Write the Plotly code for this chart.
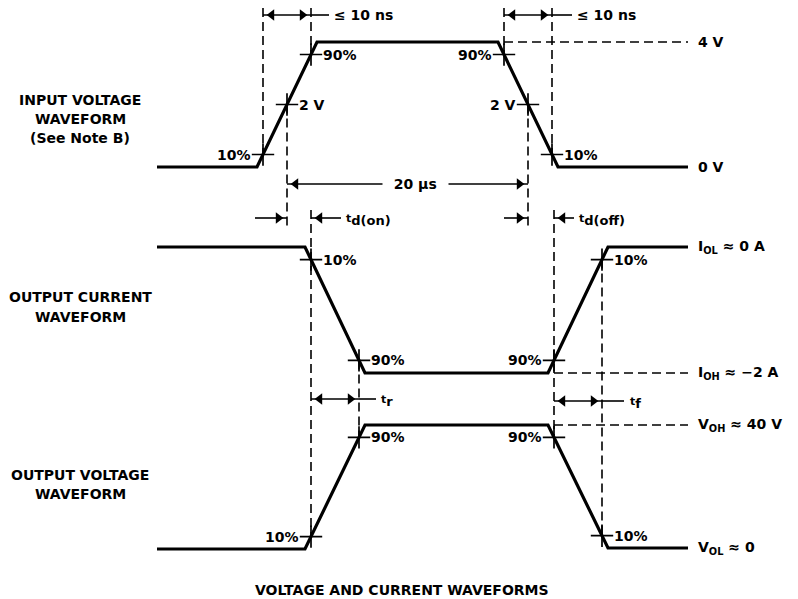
import plotly.graph_objects as go

# Waveform corner points on the drawing grid (x = time, y = level, y grows downward)
IN_T = [157, 257, 317, 498, 558, 688]
IN_Y = [167, 167, 42, 42, 167, 167]
IOUT_T = [157, 305, 365, 548, 608, 688]
IOUT_Y = [247, 247, 373, 373, 247, 247]
VOUT_T = [157, 305, 365, 548, 608, 688]
VOUT_Y = [549, 549, 425, 425, 548, 548]

# Measurement points along each edge (fraction of the transition) and their labels
IN_RISE = [(0.1, "10%", "left"), (0.5, "2 V", "right"), (0.9, "90%", "right")]
IN_FALL = [(0.1, "90%", "left"), (0.5, "2 V", "left"), (0.9, "10%", "right")]
I_FALL = [(0.1, "10%", "right"), (0.9, "90%", "right")]
I_RISE = [(0.1, "90%", "left"), (0.9, "10%", "right")]
V_RISE = [(0.1, "10%", "left"), (0.9, "90%", "right")]
V_FALL = [(0.1, "90%", "left"), (0.9, "10%", "right")]

LEVEL_LABELS = [
    ("4 V", "in", 2),
    ("0 V", "in", 5),
    ("I<sub>OL</sub> ≈ 0 A", "i", 5),
    ("I<sub>OH</sub> ≈ −2 A", "i", 3),
    ("V<sub>OH</sub> ≈ 40 V", "v", 3),
    ("V<sub>OL</sub> ≈ 0", "v", 5),
]

SIDE_LABELS = [
    ("INPUT VOLTAGE", 100), ("WAVEFORM", 119), ("(See Note B)", 138),
    ("OUTPUT CURRENT", 297), ("WAVEFORM", 317),
    ("OUTPUT VOLTAGE", 475), ("WAVEFORM", 494),
]
TITLE = "VOLTAGE AND CURRENT WAVEFORMS"

FONT = dict(family="DejaVu Sans, Liberation Sans, sans-serif", size=14, color="black", weight="bold")
INK = "black"
W, H = 798, 599

WAVES = {"in": (IN_T, IN_Y), "i": (IOUT_T, IOUT_Y), "v": (VOUT_T, VOUT_Y)}


def edge_point(wave, edge, f):
    t, y = WAVES[wave]
    a = 1 if edge == 0 else 3
    return t[a] + f * (t[a + 1] - t[a]), y[a] + f * (y[a + 1] - y[a])


fig = go.Figure()
ann = []


def text(x, y, s, xanchor="left", yanchor="middle", **kw):
    font = dict(FONT)
    font.update(kw.pop("font", {}))
    ann.append(dict(x=x, y=y, text=s, xref="x", yref="y", showarrow=False,
                    xanchor=xanchor, yanchor=yanchor, font=font, **kw))


def timing(base, sub):
    # small "t" with a full-size subscript, as in the datasheet symbols
    return ("<span style='font-size:11px'>" + base + "</span><sub>"
            "<span style='font-size:13px'>" + sub + "</span></sub>")


def dashed(xs, ys):
    fig.add_trace(go.Scatter(x=xs, y=ys, mode="lines", hoverinfo="skip",
                             line=dict(color=INK, width=1.6, dash="9px,5px")))


def solid(xs, ys, w=1.6):
    fig.add_trace(go.Scatter(x=xs, y=ys, mode="lines", hoverinfo="skip",
                             line=dict(color=INK, width=w)))


AH = 10  # arrowhead marker size


def head(x, y, direction):
    # place a triangle so its tip touches x
    off = 0.866 * AH
    cx = x - off if direction == "right" else x + off
    sym = "triangle-right" if direction == "right" else "triangle-left"
    fig.add_trace(go.Scatter(x=[cx], y=[y], mode="markers", hoverinfo="skip",
                             marker=dict(symbol=sym, size=AH, color=INK, line=dict(width=0))))


def span(x0, x1, y):
    # dimension line with heads pointing outward to both reference lines
    solid([x0, x1], [y, y])
    head(x0, y, "left")
    head(x1, y, "right")


# --- waveforms
for key, (t, y) in WAVES.items():
    fig.add_trace(go.Scatter(x=t, y=y, mode="lines", hoverinfo="skip",
                             line=dict(color=INK, width=3.2)))

# --- measurement crosses and percent labels
pts = {}
for key, edge, spec in [("in", 0, IN_RISE), ("in", 1, IN_FALL), ("i", 0, I_FALL),
                        ("i", 1, I_RISE), ("v", 0, V_RISE), ("v", 1, V_FALL)]:
    for f, lab, side in spec:
        px, py = edge_point(key, edge, f)
        pts[(key, edge, f)] = (px, py)
        fig.add_trace(go.Scatter(x=[px], y=[py], mode="markers", hoverinfo="skip",
                                 marker=dict(symbol="cross-thin", size=16,
                                             line=dict(color=INK, width=1.7))))
        if side == "left":
            text(px - 10, py, lab, xanchor="right")
        else:
            text(px + 10, py, lab, xanchor="left")

TOP = 8
a10, a50, a90 = pts[("in", 0, 0.1)], pts[("in", 0, 0.5)], pts[("in", 0, 0.9)]
b90, b50, b10 = pts[("in", 1, 0.1)], pts[("in", 1, 0.5)], pts[("in", 1, 0.9)]
c10, c90 = pts[("i", 0, 0.1)], pts[("i", 0, 0.9)]
d90, d10 = pts[("i", 1, 0.1)], pts[("i", 1, 0.9)]
e10, e90 = pts[("v", 0, 0.1)], pts[("v", 0, 0.9)]
g90, g10 = pts[("v", 1, 0.1)], pts[("v", 1, 0.9)]

# --- dashed reference lines
dashed([a10[0], a10[0]], [TOP, a10[1]])
dashed([a90[0], a90[0]], [TOP, a90[1]])
dashed([b90[0], b90[0]], [TOP, b90[1]])
dashed([b10[0], b10[0]], [TOP, b10[1]])
dashed([a50[0], a50[0]], [a50[1], 228])
dashed([b50[0], b50[0]], [b50[1], 228])
dashed([c10[0], c10[0]], [210, e10[1]])
dashed([c90[0], c90[0]], [c90[1], e90[1]])
dashed([d90[0], d90[0]], [210, g90[1]])
dashed([d10[0], d10[0]], [d10[1], g10[1]])

RIGHT = 688
dashed([b90[0], RIGHT], [IN_Y[2], IN_Y[2]])
dashed([d90[0], RIGHT], [IOUT_Y[3], IOUT_Y[3]])
dashed([g90[0], RIGHT], [VOUT_Y[2], VOUT_Y[2]])

# --- level labels at the right
for lab, key, idx in LEVEL_LABELS:
    text(696, WAVES[key][1][idx], lab, xanchor="left")

# --- timing dimensions
span(a10[0], a90[0], 15)
solid([a90[0], a90[0] + 18], [15, 15])
text(a90[0] + 21, 15, "≤ 10 ns")

span(b90[0], b10[0], 15)
solid([b10[0], b10[0] + 20], [15, 15])
text(b10[0] + 23, 15, "≤ 10 ns")

span(a50[0], b50[0], 184)
text((a50[0] + b50[0]) / 2 + 8, 184, "  20 µs  ", xanchor="center", bgcolor="white")

Y_TD = 218
solid([a50[0] - 32, a50[0]], [Y_TD, Y_TD])
head(a50[0], Y_TD, "right")
solid([c10[0], c10[0] + 30], [Y_TD, Y_TD])
head(c10[0], Y_TD, "left")
text(c10[0] + 33, Y_TD + 2, timing("t", "d(on)"))

solid([b50[0] - 24, b50[0]], [Y_TD, Y_TD])
head(b50[0], Y_TD, "right")
solid([d90[0], d90[0] + 20], [Y_TD, Y_TD])
head(d90[0], Y_TD, "left")
text(d90[0] + 23, Y_TD + 2, timing("t", "d(off)"))

span(c10[0], c90[0], 399)
solid([c90[0], c90[0] + 17], [399, 399])
text(c90[0] + 20, 401, timing("t", "r"))

span(d90[0], d10[0], 401)
solid([d10[0], d10[0] + 22], [401, 401])
text(d10[0] + 26, 403, timing("t", "f"))

# --- captions
for lab, y in SIDE_LABELS:
    text(80, y, lab, xanchor="center")
text(402, 590, TITLE, xanchor="center")

fig.update_layout(
    width=W, height=H, margin=dict(l=0, r=0, t=0, b=0),
    paper_bgcolor="white", plot_bgcolor="white", showlegend=False,
    xaxis=dict(range=[0, W], visible=False, fixedrange=True),
    yaxis=dict(range=[H, 0], visible=False, fixedrange=True),
    annotations=ann,
)
fig.write_html("out.html", config={"displayModeBar": False})
